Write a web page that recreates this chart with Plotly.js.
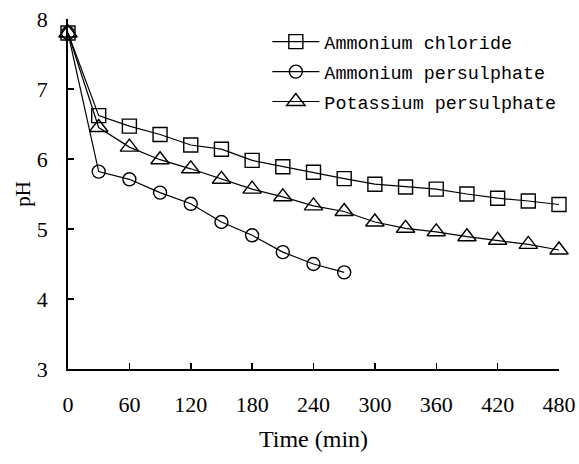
<!DOCTYPE html>
<html>
<head>
<meta charset="utf-8">
<script src="https://cdn.plot.ly/plotly-3.0.1.min.js"></script>
<style>html,body{margin:0;padding:0;background:#fff;}#chart{width:579px;height:464px;}</style>
</head>
<body>
<div id="chart"></div>
<script>
var timeChloride = [0,30,60,90,120,150,180,210,240,270,300,330,360,390,420,450,480];
var phChloride   = [7.8,6.62,6.47,6.35,6.2,6.14,5.98,5.89,5.81,5.72,5.64,5.6,5.57,5.5,5.44,5.4,5.35];
var timeAmmPers  = [0,30,60,90,120,150,180,210,240,270];
var phAmmPers    = [7.8,5.82,5.71,5.52,5.36,5.1,4.91,4.67,4.5,4.38];
var timePotPers  = [0,30,60,90,120,150,180,210,240,270,300,330,360,390,420,450,480];
var phPotPers    = [7.8,6.45,6.17,5.99,5.86,5.71,5.57,5.46,5.33,5.25,5.1,5.01,4.96,4.89,4.84,4.78,4.7];
var seriesNames  = ['Ammonium chloride','Ammonium persulphate','Potassium persulphate'];
var xTicks = [0,60,120,180,240,300,360,420,480];
var yTicks = [3,4,5,6,7,8];

function tr(x, y, name, sym, size, grp) {
  return {
    x: x, y: y, name: name, type: 'scatter', mode: 'lines+markers',
    legendgroup: grp,
    line: {color: '#000', width: 1.2},
    marker: {symbol: sym, size: size, color: '#000', line: {width: 1.4, color: '#000'}},
    cliponaxis: false
  };
}
var data = [
  tr(timeChloride, phChloride, seriesNames[0], 'square-open', 14, 'a'),
  tr(timeAmmPers, phAmmPers, seriesNames[1], 'circle-open', 13, 'b'),
  tr(timePotPers, phPotPers, seriesNames[2], 'triangle-up-open', 16, 'c')
];
var tickFont = {family: 'Liberation Serif, Times New Roman, serif', size: 22, color: '#000'};
var layout = {
  width: 579, height: 464,
  margin: {l: 68, r: 20, t: 19, b: 95},
  paper_bgcolor: '#fff', plot_bgcolor: '#fff',
  showlegend: true,
  legend: {
    x: 0.406, xanchor: 'left', y: 0.988, yanchor: 'top',
    font: {family: 'Liberation Mono, DejaVu Sans Mono, monospace', size: 18.4, color: '#000'},
    bgcolor: 'rgba(0,0,0,0)', borderwidth: 0, itemwidth: 47, tracegroupgap: 3
  },
  xaxis: {
    range: [0, 480], tickvals: xTicks, ticktext: xTicks.map(String),
    showgrid: false, zeroline: false, showline: true, linecolor: '#000', linewidth: 1.8,
    ticks: 'inside', ticklen: 6, tickwidth: 1.5, tickcolor: '#000',
    tickfont: tickFont, ticklabelstandoff: 15,
    title: {text: 'Time (min)', font: {family: 'Liberation Serif, Times New Roman, serif', size: 24, color: '#000'}, standoff: 14}
  },
  yaxis: {
    range: [3, 8], tickvals: yTicks, ticktext: yTicks.map(String),
    showgrid: false, zeroline: false, showline: true, linecolor: '#000', linewidth: 1.8,
    ticks: 'inside', ticklen: 6, tickwidth: 1.5, tickcolor: '#000',
    tickfont: tickFont, ticklabelstandoff: 14,
    title: {text: 'pH', font: {family: 'Liberation Serif, Times New Roman, serif', size: 21, color: '#000'}, standoff: 0}
  }
};
Plotly.newPlot('chart', data, layout, {displayModeBar: false, staticPlot: true});
</script>
</body>
</html>
